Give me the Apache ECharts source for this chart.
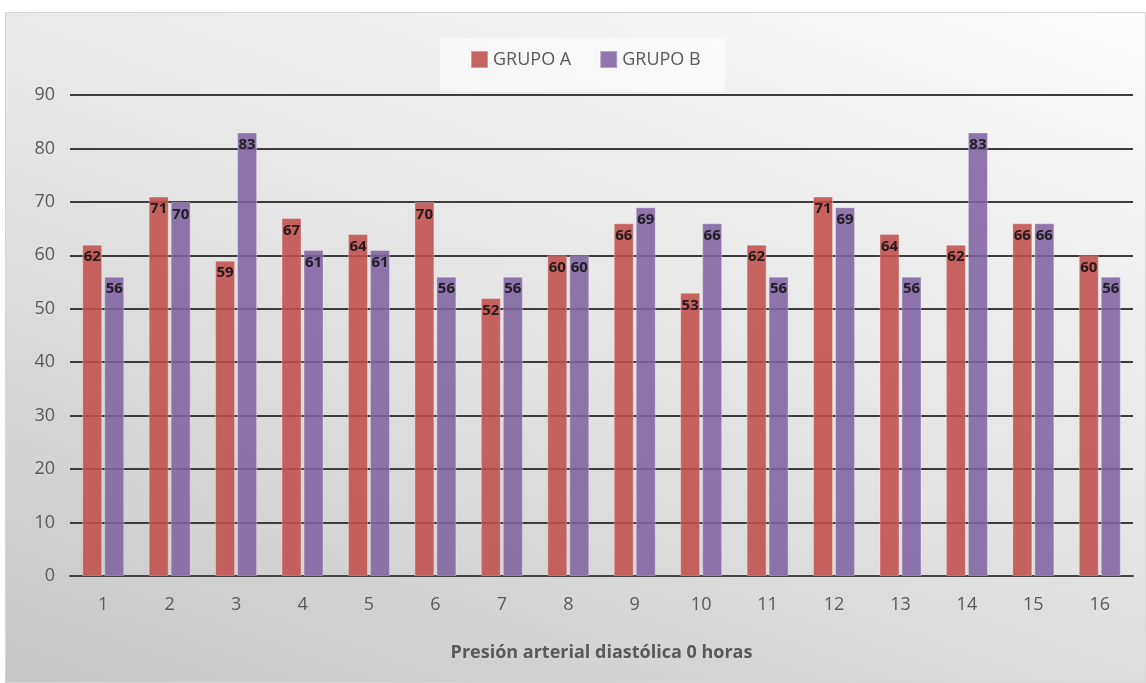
<!DOCTYPE html>
<html>
<head>
<meta charset="utf-8">
<script src="https://cdn.jsdelivr.net/npm/echarts@6/dist/echarts.min.js"></script>
<style>
  html, body { margin: 0; padding: 0; background: #ffffff; }
  #frame {
    position: absolute; left: 5px; top: 12px; width: 1141px; height: 671px;
    box-sizing: border-box; border: 1px solid #d6d6d6;
    background: linear-gradient(200deg, #fbfbfb 0%, #e4e4e4 50%, #c6c6c6 100%);
  }
  #chart { position: absolute; left: 0; top: 0; width: 1146px; height: 683px; }
</style>
</head>
<body>
<div id="frame"></div>
<div id="chart"></div>
<script>
// Diastolic blood pressure at 0 hours, per subject, for both groups
const categories = ['1','2','3','4','5','6','7','8','9','10','11','12','13','14','15','16'];
const grupoA = [62, 71, 59, 67, 64, 70, 52, 60, 66, 53, 62, 71, 64, 62, 66, 60];
const grupoB = [56, 70, 83, 61, 61, 56, 56, 60, 69, 66, 56, 69, 56, 83, 66, 56];
const seriesNames = ['GRUPO A', 'GRUPO B'];
const axisTitle = 'Presión arterial diastólica 0 horas';

const FONT = '"Open Sans", "Noto Sans", sans-serif';
const TEXT = '#595959';

const chart = echarts.init(document.getElementById('chart'), null, { renderer: 'canvas' });

function barSeries(name, data, color) {
  return {
    name: name,
    type: 'bar',
    data: data,
    barWidth: 20,
    barGap: '10%',
    itemStyle: {
      color: color,
      opacity: 0.88,
      borderColor: 'rgba(255,255,255,0.35)',
      borderWidth: 1
    },
    label: {
      show: true,
      position: 'insideTop',
      distance: 5,
      color: '#111',
      fontFamily: FONT,
      fontWeight: 'bold',
      fontSize: 15
    }
  };
}

chart.setOption({
  backgroundColor: 'transparent',
  animation: false,
  textStyle: { fontFamily: FONT },
  graphic: [{
    type: 'rect',
    z: -1,
    shape: { x: 440, y: 38, width: 285, height: 54 },
    style: { fill: 'rgba(255,255,255,0.5)' },
    silent: true
  }],
  legend: {
    data: seriesNames,
    left: 465,
    top: 45,
    icon: 'rect',
    itemWidth: 17,
    itemHeight: 17,
    itemGap: 28,
    textStyle: { color: TEXT, fontFamily: FONT, fontSize: 18 }
  },
  grid: { left: 70, right: 13, top: 95, bottom: 107 },
  xAxis: {
    type: 'category',
    data: categories,
    axisTick: { show: false },
    axisLine: { show: true, lineStyle: { color: '#444', width: 2 } },
    axisLabel: { color: TEXT, fontFamily: FONT, fontSize: 18, margin: 20 },
    name: axisTitle,
    nameLocation: 'middle',
    nameGap: 68,
    nameTextStyle: { color: TEXT, fontFamily: FONT, fontSize: 18, fontWeight: 'bold' }
  },
  yAxis: {
    type: 'value',
    min: 0,
    max: 90,
    interval: 10,
    axisLine: { show: false },
    axisTick: { show: false },
    axisLabel: { color: TEXT, fontFamily: FONT, fontSize: 18, margin: 15 },
    splitLine: { show: true, lineStyle: { color: '#3c3c3c', width: 2 } }
  },
  series: [
    barSeries(seriesNames[0], grupoA, '#C0504D'),
    barSeries(seriesNames[1], grupoB, '#8064A2')
  ]
});
</script>
</body>
</html>
